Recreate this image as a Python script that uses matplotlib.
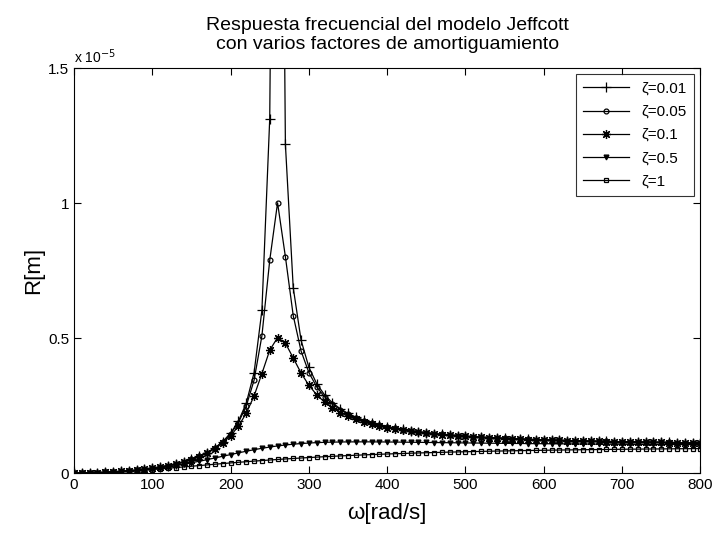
import numpy as np
import matplotlib
matplotlib.use('Agg')
import matplotlib.pyplot as plt

plt.rcParams['font.family'] = ['Liberation Sans', 'DejaVu Sans']

# frecuencia [rad/s]
w = list(range(0, 801, 10))

# respuesta R en unidades de 1e-5 m
r_001 = [0, 0.0001, 0.0006, 0.0014, 0.0024, 0.0039, 0.0057, 0.0079, 0.0105, 0.0137,
         0.0175, 0.0220, 0.0273, 0.0337, 0.0413, 0.0505, 0.0617, 0.0757, 0.0934, 0.1165,
         0.1476, 0.1917, 0.2586, 0.3717, 0.6024, 1.3128, 4.683, 1.2181, 0.6870, 0.4922,
         0.3918, 0.3307, 0.2896, 0.2602, 0.2381, 0.2209, 0.2072, 0.1960, 0.1867, 0.1789,
         0.1722, 0.1664, 0.1613, 0.1569, 0.1530, 0.1495, 0.1464, 0.1436, 0.1411, 0.1388,
         0.1367, 0.1347, 0.1330, 0.1314, 0.1299, 0.1285, 0.1272, 0.1260, 0.1249, 0.1239,
         0.1229, 0.1220, 0.1211, 0.1203, 0.1196, 0.1189, 0.1182, 0.1176, 0.1170, 0.1164,
         0.1159, 0.1153, 0.1149, 0.1144, 0.1140, 0.1135, 0.1131, 0.1128, 0.1124, 0.1120,
         0.1117]
r_005 = [0, 0.0001, 0.0006, 0.0014, 0.0024, 0.0039, 0.0057, 0.0079, 0.0105, 0.0137,
         0.0175, 0.0220, 0.0273, 0.0336, 0.0412, 0.0503, 0.0614, 0.0752, 0.0926, 0.1151,
         0.1451, 0.1867, 0.2478, 0.3439, 0.5081, 0.7880, 1.0009, 0.8013, 0.5832, 0.4521,
         0.3719, 0.3192, 0.2823, 0.2551, 0.2344, 0.2181, 0.2050, 0.1943, 0.1853, 0.1777,
         0.1711, 0.1655, 0.1606, 0.1562, 0.1524, 0.1490, 0.1459, 0.1432, 0.1407, 0.1384,
         0.1363, 0.1344, 0.1327, 0.1311, 0.1296, 0.1283, 0.1270, 0.1258, 0.1247, 0.1237,
         0.1227, 0.1218, 0.1210, 0.1202, 0.1194, 0.1187, 0.1181, 0.1174, 0.1169, 0.1163,
         0.1158, 0.1152, 0.1148, 0.1143, 0.1139, 0.1135, 0.1131, 0.1127, 0.1123, 0.1120,
         0.1116]
r_01 = [0, 0.0001, 0.0006, 0.0014, 0.0024, 0.0039, 0.0057, 0.0079, 0.0105, 0.0137,
        0.0174, 0.0219, 0.0271, 0.0334, 0.0408, 0.0497, 0.0605, 0.0738, 0.0902, 0.1111,
        0.1380, 0.1734, 0.2212, 0.2856, 0.3684, 0.4550, 0.5016, 0.4813, 0.4261, 0.3705,
        0.3250, 0.2898, 0.2625, 0.2410, 0.2240, 0.2101, 0.1987, 0.1891, 0.1810, 0.1741,
        0.1681, 0.1628, 0.1583, 0.1542, 0.1506, 0.1474, 0.1445, 0.1418, 0.1395, 0.1373,
        0.1353, 0.1335, 0.1318, 0.1303, 0.1289, 0.1276, 0.1263, 0.1252, 0.1241, 0.1231,
        0.1222, 0.1213, 0.1205, 0.1198, 0.1190, 0.1183, 0.1177, 0.1171, 0.1165, 0.1160,
        0.1154, 0.1149, 0.1145, 0.1140, 0.1136, 0.1132, 0.1128, 0.1124, 0.1121, 0.1117,
        0.1114]
r_05 = [0, 0.0001, 0.0006, 0.0014, 0.0024, 0.0038, 0.0055, 0.0076, 0.0100, 0.0128,
        0.0160, 0.0195, 0.0235, 0.0280, 0.0328, 0.0381, 0.0437, 0.0496, 0.0558, 0.0621,
        0.0684, 0.0747, 0.0807, 0.0864, 0.0916, 0.0963, 0.1004, 0.1039, 0.1068, 0.1092,
        0.1111, 0.1126, 0.1137, 0.1144, 0.1150, 0.1153, 0.1154, 0.1155, 0.1154, 0.1152,
        0.1150, 0.1147, 0.1144, 0.1140, 0.1137, 0.1133, 0.1130, 0.1126, 0.1123, 0.1119,
        0.1115, 0.1112, 0.1109, 0.1106, 0.1102, 0.1099, 0.1096, 0.1094, 0.1091, 0.1088,
        0.1086, 0.1083, 0.1081, 0.1079, 0.1076, 0.1074, 0.1072, 0.1070, 0.1068, 0.1067,
        0.1065, 0.1063, 0.1062, 0.1060, 0.1059, 0.1057, 0.1056, 0.1054, 0.1053, 0.1052,
        0.1051]
r_1 = [0, 0.0001, 0.0006, 0.0013, 0.0023, 0.0036, 0.0051, 0.0068, 0.0087, 0.0108,
       0.0130, 0.0153, 0.0177, 0.0201, 0.0226, 0.0251, 0.0276, 0.0301, 0.0326, 0.0350,
       0.0374, 0.0397, 0.0419, 0.0441, 0.0462, 0.0482, 0.0502, 0.0521, 0.0539, 0.0556,
       0.0573, 0.0589, 0.0604, 0.0619, 0.0633, 0.0646, 0.0659, 0.0671, 0.0683, 0.0694,
       0.0705, 0.0715, 0.0724, 0.0734, 0.0743, 0.0751, 0.0759, 0.0767, 0.0775, 0.0782,
       0.0788, 0.0795, 0.0801, 0.0807, 0.0813, 0.0818, 0.0824, 0.0829, 0.0834, 0.0838,
       0.0843, 0.0847, 0.0851, 0.0855, 0.0859, 0.0863, 0.0867, 0.0870, 0.0873, 0.0877,
       0.0880, 0.0883, 0.0885, 0.0888, 0.0891, 0.0893, 0.0896, 0.0898, 0.0901, 0.0903,
       0.0905]

series = [
    (r_001, '+', 7, 'ζ=0.01'),
    (r_005, 'o', 3.5, 'ζ=0.05'),
    (r_01, (8, 2, 0), 6.5, 'ζ=0.1'),
    (r_05, 'v', 3.5, 'ζ=0.5'),
    (r_1, 's', 3.5, 'ζ=1'),
]

fig = plt.figure(figsize=(7.15, 5.55), dpi=100)
ax = fig.add_axes([0.1035, 0.1477, 0.876, 0.7297])

for vals, mk, ms, lab in series:
    fc = 'black' if mk == 'v' else 'none'
    ax.plot(w, vals, color='black', lw=0.9, marker=mk, markersize=ms,
            markerfacecolor=fc, markeredgecolor='black', markeredgewidth=0.9, label=lab)

ax.set_xlim(0, 800)
ax.set_ylim(0, 1.5)
ax.set_xticks(range(0, 801, 100))
ax.set_yticks([0, 0.5, 1, 1.5])
ax.set_yticklabels(['0', '0.5', '1', '1.5'])
ax.tick_params(direction='in', top=True, right=True, labelsize=11, length=5, width=0.8)
for sp in ax.spines.values():
    sp.set_linewidth(0.8)

ax.text(0.0, 1.005, r'x 10$^{-5}$', transform=ax.transAxes, fontsize=10,
        ha='left', va='bottom')

ax.set_title('Respuesta frecuencial del modelo Jeffcott\ncon varios factores de amortiguamiento',
             fontsize=14, pad=14, linespacing=1.1)
ax.set_xlabel('ω[rad/s]', fontsize=16, labelpad=8)
ax.set_ylabel('R[m]', fontsize=16, labelpad=3)

leg = ax.legend(loc='upper right', fontsize=11, handlelength=3, frameon=True,
                fancybox=False, edgecolor='black', borderpad=0.5, labelspacing=0.6,
                borderaxespad=0.4)
leg.get_frame().set_linewidth(0.8)

fig.savefig('out.png', dpi=100)
